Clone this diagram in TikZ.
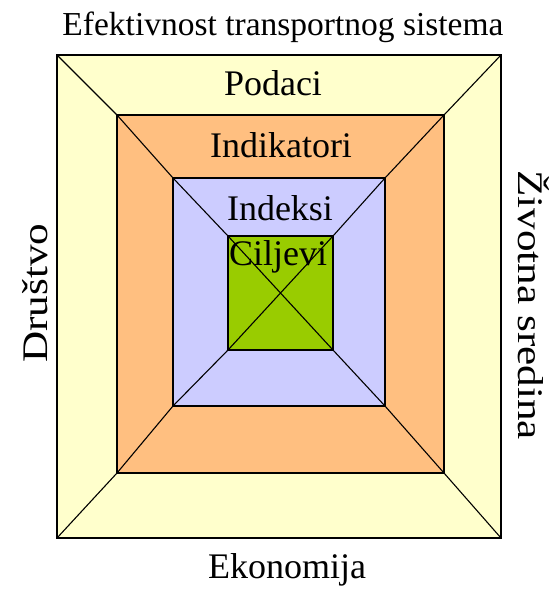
\documentclass[tikz,border=0pt]{standalone}
\usepackage{fontspec}
\setmainfont{Liberation Serif}
\usepackage{tikz}

\definecolor{cPodaci}{HTML}{FFFFCC}
\definecolor{cIndikatori}{HTML}{FFBF80}
\definecolor{cIndeksi}{HTML}{CCCCFF}
\definecolor{cCiljevi}{HTML}{99CC00}

\begin{document}
\begin{tikzpicture}[
  x=1pt, y=-1pt,
  frame/.style={draw, line width=1.3pt, outer sep=0pt, inner sep=0pt},
  lbl/.style={font=\fontsize{36}{36}\selectfont, inner sep=0pt, anchor=base},
  vlbl/.style={lbl, rotate=#1},
  diag/.style={line width=1.1pt}
]
\useasboundingbox (0,0) rectangle (550,590);
% nested frames
\node[frame, fill=cPodaci,     minimum width=444pt, minimum height=483pt] (pod) at (279,296.5) {};
\node[frame, fill=cIndikatori, minimum width=327pt, minimum height=358pt] (ind) at (280.5,294) {};
\node[frame, fill=cIndeksi,    minimum width=212pt, minimum height=228pt] (idx) at (279,292) {};
\node[frame, fill=cCiljevi,    minimum width=105pt, minimum height=114pt] (cil) at (280.5,293) {};
% corner lines
\foreach \c in {north west, north east, south west, south east}
  \draw[diag] (pod.\c) -- (ind.\c) -- (idx.\c) -- (cil.\c);
\draw[diag] (cil.north west) -- (cil.south east);
\draw[diag] (cil.north east) -- (cil.south west);
\draw[line width=1.6pt] (pod.north west) rectangle (pod.south east);
% labels
\node[lbl, font=\fontsize{33.5}{33.5}\selectfont] (title) at (283,35) {Efektivnost transportnog sistema};
\node[lbl] (podaci)     at (273,95)  {Podaci};
\node[lbl] (indikatori) at (281,157) {Indikatori};
\node[lbl] (indeksi)    at (280,220) {Indeksi};
\node[lbl] (ciljevi)    at (278,265) {Ciljevi};
\node[lbl] (ekonomija)  at (287,578) {Ekonomija};
\node[vlbl=90]  (drustvo) at (47,293)  {\scalebox{1.2}[1]{Društvo}};
\node[vlbl=-90] (okolina) at (518,305) {\scalebox{1.2}[1]{Životna sredina}};
\end{tikzpicture}
\end{document}
